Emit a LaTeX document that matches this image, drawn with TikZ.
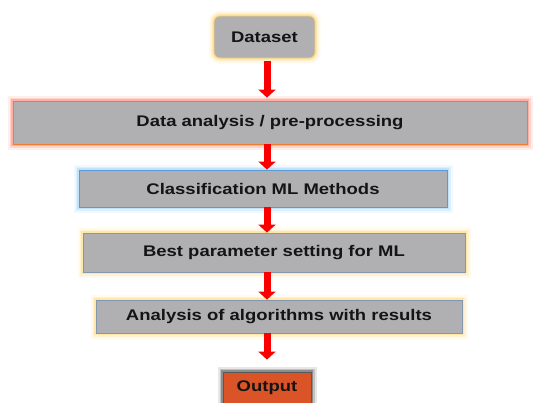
\documentclass[tikz,border=0pt]{standalone}
\usepackage{fontspec}
\setmainfont{Liberation Sans}[FakeStretch=1.2]
\usetikzlibrary{arrows.meta}
\definecolor{boxgray}{RGB}{176,176,178}
\definecolor{txt}{RGB}{20,20,20}
\definecolor{arrred}{RGB}{250,0,0}
\definecolor{outfill}{RGB}{218,84,40}
\definecolor{yglow}{RGB}{255,214,110}
\definecolor{rglow}{RGB}{255,120,100}
\definecolor{bglow}{RGB}{150,205,245}
\definecolor{sglow}{RGB}{60,60,60}
\definecolor{orbord}{RGB}{237,125,49}
\definecolor{blbord}{RGB}{91,155,213}
\definecolor{gbbord}{RGB}{132,151,176}
\definecolor{yebord}{RGB}{242,205,120}
\tikzset{
  glow/.style={preaction={draw=#1,line width=11pt,opacity=0.12},
               preaction={draw=#1,line width=7pt,opacity=0.22},
               preaction={draw=#1,line width=4pt,opacity=0.4}},
  stage/.style={rectangle,fill=boxgray,inner sep=0pt,line width=0.8pt,
                font=\fontsize{15.4}{18}\selectfont\bfseries,text=txt},
  arr/.style={draw=arrred,line width=7pt,-{Triangle[width=17pt,length=8pt]}}
}
\begin{document}
\begin{tikzpicture}[x=1pt,y=-1pt]
\useasboundingbox (0,0) rectangle (533,402);
\node[stage,glow=yglow,draw=yebord,rounded corners=6pt,minimum width=101pt,minimum height=42pt] (dataset) at (264.5,37) {Dataset};
\node[stage,glow=rglow,draw=orbord,minimum width=514pt,minimum height=43pt] (prep) at (270,122.5) {Data analysis / pre-processing};
\node[stage,glow=bglow,draw=blbord,minimum width=368pt,minimum height=37pt] (cls) at (263,188.5) {Classification ML Methods};
\node[stage,glow=yglow,draw=gbbord,minimum width=382pt,minimum height=39pt] (best) at (274,252.5) {Best parameter setting for ML};
\node[stage,glow=yglow,draw=gbbord,minimum width=366pt,minimum height=33pt] (anal) at (279,316.5) {Analysis of algorithms with results};
\node[stage,glow=sglow,fill=outfill,draw=gray!70!black,minimum width=88pt,minimum height=36pt] (out) at (267,390) {};
\node[font=\fontsize{15.4}{18}\selectfont\bfseries,text=txt,inner sep=0pt] (outlbl) at (267,388) {Output};
\coordinate (ax) at (267,0);
\draw[arr,shorten <=3pt,shorten >=3pt] (dataset.south -| ax) -- (prep.north -| ax);
\draw[arr] (prep.south -| ax) -- (cls.north -| ax);
\draw[arr] (cls.south -| ax) -- (best.north -| ax);
\draw[arr] (best.south -| ax) -- (anal.north -| ax);
\draw[arr,shorten >=12pt] (anal.south -| ax) -- (out.north -| ax);
\end{tikzpicture}
\end{document}
